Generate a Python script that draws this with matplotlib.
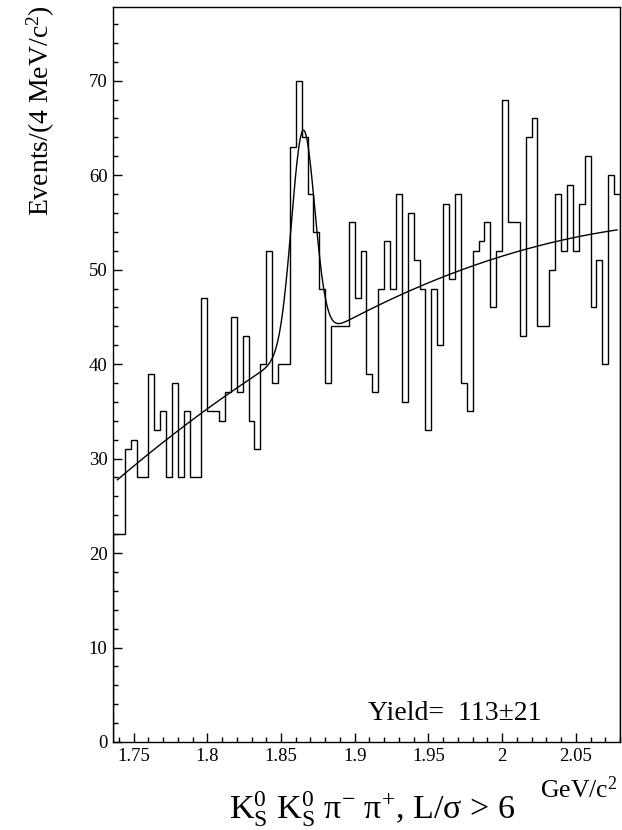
import numpy as np
import matplotlib
matplotlib.use("Agg")
import matplotlib.pyplot as plt
from matplotlib.ticker import MultipleLocator, FuncFormatter

plt.rcParams['font.family'] = ['Liberation Serif', 'DejaVu Serif']
plt.rcParams['mathtext.fontset'] = 'custom'
plt.rcParams['mathtext.rm'] = 'Liberation Serif'
plt.rcParams['mathtext.it'] = 'Liberation Serif:italic'

# histogram: 4 MeV bins starting at 1.736 GeV
x_start = 1.736
bin_width = 0.004
counts = [22, 22, 31, 32, 28, 28, 39, 33, 35, 28,
          38, 28, 35, 28, 28, 47, 35, 35, 34, 37,
          45, 37, 43, 34, 31, 40, 52, 38, 40, 40,
          63, 70, 64, 58, 54, 48, 38, 44, 44, 44,
          55, 47, 52, 39, 37, 48, 53, 48, 58, 36,
          56, 51, 48, 33, 48, 42, 57, 49, 58, 38,
          35, 52, 53, 55, 46, 52, 68, 55, 55, 43,
          64, 66, 44, 44, 50, 58, 52, 59, 52, 57,
          62, 46, 51, 40, 60, 58]

# fit: gaussian on quadratic background (around 1.75)
bkg_c0, bkg_c1, bkg_c2 = 29.2, 129.5, -162.4
peak_amp, peak_mean, peak_sigma = 22.8, 1.865, 0.0079
fit_lo, fit_hi = 1.739, 2.078

edges = x_start + bin_width * np.arange(len(counts) + 1)
xf = np.linspace(fit_lo, fit_hi, 600)
u = xf - 1.75
yf = bkg_c0 + bkg_c1 * u + bkg_c2 * u**2 + peak_amp * np.exp(-0.5 * ((xf - peak_mean) / peak_sigma)**2)

fig = plt.figure(figsize=(6.22, 8.30), dpi=100)
ax = fig.add_axes([113/622, 1 - 742/830, 507/622, (742 - 7)/830])

ax.stairs(counts, edges, color='black', linewidth=1.0)
ax.plot(xf, yf, color='black', linewidth=1.0)

ax.set_xlim(edges[0], edges[-1])
ax.set_ylim(0, 77.8)

ax.xaxis.set_major_locator(MultipleLocator(0.05))
ax.xaxis.set_minor_locator(MultipleLocator(0.01))
ax.yaxis.set_major_locator(MultipleLocator(10))
ax.yaxis.set_minor_locator(MultipleLocator(2))
ax.xaxis.set_major_formatter(FuncFormatter(lambda v, p: '%g' % round(v, 3)))
ax.tick_params(which='both', direction='in', top=False, right=False, labelsize=13.5)
ax.tick_params(which='major', length=6.5, width=1)
ax.tick_params(which='minor', length=3.5, width=1)
ax.tick_params(axis='x', pad=4)
ax.tick_params(axis='y', pad=4)
for s in ax.spines.values():
    s.set_linewidth(1.0)

ax.text(0.503, 0.03, 'Yield=  113\u00b121', transform=ax.transAxes,
        fontsize=20, ha='left', va='baseline')

fig.text(0.066, 1 - 5/830, 'Events/(4 MeV/c$^{2}$)', rotation=90,
         ha='center', va='top', fontsize=20)
fig.text(617/622, 1 - 798/830, 'GeV/c$^{2}$', ha='right', va='baseline', fontsize=18.5)
fig.text(372/622, 1 - 819/830,
         'K$_{\\mathrm{S}}^{0}$ K$_{\\mathrm{S}}^{0}$ \u03c0$^{-}$ \u03c0$^{+}$, L/\u03c3 > 6',
         ha='center', va='baseline', fontsize=24.5)

fig.savefig('out.png', dpi=100)
